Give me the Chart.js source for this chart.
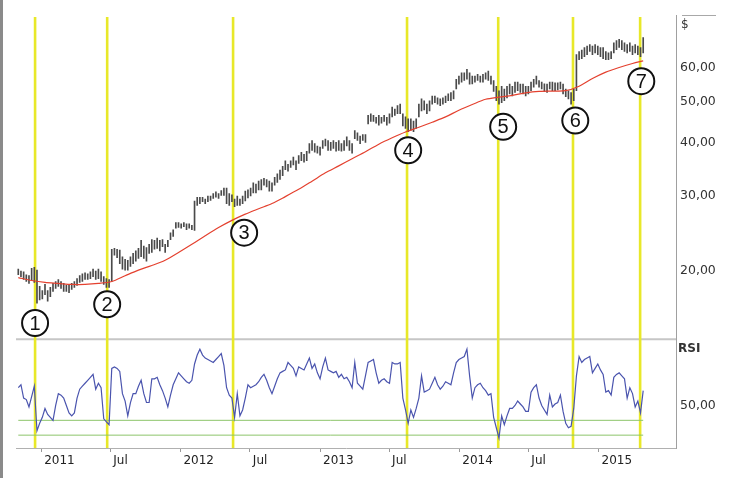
<!DOCTYPE html>
<html>
<head>
<meta charset="utf-8">
<script src="https://cdn.jsdelivr.net/npm/chart.js@4.4.1/dist/chart.umd.min.js"></script>
<style>
  html, body { margin: 0; padding: 0; background: #fff; }
  #c { display: block; }
</style>
</head>
<body>
<canvas id="c" width="730" height="478"></canvas>
<script>
// weekly bars, first week starts here
const firstWeek = '2010-11-02';

const weeklyHigh = [
  20.2, 20.0, 19.9, 19.6, 19.5, 20.3, 20.4, 20.1, 18.4, 18.0,
  18.6, 18.0, 18.3, 18.7, 18.9, 19.1, 18.9, 18.7, 18.5, 18.5,
  18.7, 18.9, 19.2, 19.5, 19.7, 19.8, 19.7, 19.9, 20.2, 20.0,
  20.2, 19.9, 19.4, 19.2, 19.1, 22.5, 22.6, 22.5, 22.4, 21.6,
  21.3, 21.2, 21.6, 22.0, 22.3, 22.6, 23.6, 22.9, 22.7, 23.1,
  23.7, 23.6, 23.9, 23.6, 23.7, 23.1, 23.6, 24.6, 25.0, 26.0,
  26.0, 25.8, 26.0, 25.8, 25.8, 25.6, 29.2, 29.8, 29.8, 29.8,
  29.5, 30.0, 30.0, 30.4, 30.7, 30.4, 30.9, 31.3, 31.3, 30.4,
  30.2, 29.5, 30.0, 29.5, 30.0, 30.8, 31.0, 31.3, 32.2, 32.0,
  32.5, 32.8, 33.0, 32.8, 32.5, 32.2, 33.2, 33.8, 34.5, 35.2,
  36.3, 35.6, 36.3, 37.0, 36.3, 37.3, 38.0, 37.6, 38.2, 39.8,
  40.5, 39.8, 39.3, 39.1, 40.5, 40.8, 40.5, 40.1, 40.5, 40.1,
  40.5, 39.8, 40.5, 41.3, 40.5, 39.8, 42.7, 42.2, 41.5, 41.8,
  41.8, 46.4, 46.8, 46.4, 45.9, 46.4, 45.9, 46.4, 45.9, 46.8,
  48.5, 48.0, 48.9, 49.3, 46.8, 46.0, 45.5, 45.5, 45.0, 45.5,
  49.3, 50.7, 50.2, 49.3, 50.2, 51.5, 51.5, 51.0, 50.7, 51.0,
  51.5, 52.1, 52.5, 53.0, 56.4, 57.4, 58.4, 58.4, 59.5, 58.4,
  57.4, 57.4, 57.9, 57.4, 57.9, 58.4, 58.9, 57.4, 56.0, 54.3,
  53.0, 54.3, 53.5, 54.3, 54.9, 54.3, 55.5, 55.5, 54.9, 54.9,
  54.3, 54.3, 55.5, 56.4, 57.4, 56.0, 55.5, 55.0, 54.9, 55.5,
  55.5, 55.3, 55.3, 55.5, 54.9, 53.5, 53.0, 52.5, 53.5, 64.4,
  65.5, 66.0, 66.9, 67.5, 68.0, 67.5, 68.0, 67.5, 66.9, 66.9,
  65.5, 65.0, 65.5, 68.7, 69.5, 70.0, 69.5, 68.7, 68.0, 68.7,
  67.5, 68.0, 67.5, 66.9, 70.6
];

const weeklyLow = [
  19.6, 19.4, 19.1, 18.9, 18.7, 19.0, 18.8, 16.8, 17.1, 17.2,
  17.6, 17.0, 17.4, 17.9, 18.2, 18.4, 18.2, 17.9, 17.9, 17.8,
  18.1, 18.3, 18.5, 18.8, 18.9, 19.1, 19.1, 19.2, 19.4, 19.1,
  19.2, 18.9, 18.6, 18.3, 18.3, 18.9, 21.8, 21.5, 20.8, 20.2,
  20.1, 20.1, 20.5, 20.8, 21.1, 21.4, 21.6, 21.4, 21.1, 22.0,
  22.1, 22.5, 22.6, 22.3, 22.8, 22.1, 22.8, 23.7, 24.1, 25.2,
  25.3, 25.2, 25.4, 25.0, 25.2, 25.0, 24.9, 28.5, 28.8, 29.1,
  28.8, 29.1, 29.3, 29.6, 29.8, 29.6, 30.1, 30.1, 28.8, 28.5,
  29.1, 28.3, 28.5, 28.5, 28.8, 29.2, 29.7, 30.0, 30.5, 30.5,
  31.0, 31.0, 31.8, 31.5, 30.8, 30.8, 31.8, 32.3, 32.8, 33.5,
  34.6, 34.3, 35.0, 35.5, 34.6, 35.8, 36.3, 36.0, 36.3, 37.8,
  38.4, 38.0, 37.8, 37.4, 38.8, 39.3, 38.4, 38.4, 38.8, 38.2,
  38.4, 38.2, 38.4, 39.3, 38.4, 37.8, 40.9, 40.5, 39.8, 40.5,
  40.1, 44.3, 44.9, 44.9, 44.5, 44.0, 44.5, 44.9, 44.0, 44.5,
  46.0, 46.4, 46.8, 46.8, 43.8, 43.2, 42.5, 42.8, 42.5, 43.2,
  46.0, 47.5, 47.8, 46.8, 47.5, 49.3, 49.7, 49.3, 48.9, 49.3,
  49.7, 50.2, 50.2, 50.7, 53.5, 54.9, 55.5, 56.0, 56.4, 54.9,
  55.0, 55.5, 56.0, 55.5, 55.5, 56.4, 56.0, 54.9, 52.8, 50.2,
  49.3, 49.7, 50.2, 51.0, 52.1, 51.5, 52.5, 53.0, 52.5, 52.1,
  51.5, 52.1, 53.0, 54.0, 54.9, 54.0, 53.5, 52.8, 52.5, 53.5,
  53.0, 53.0, 53.2, 53.5, 52.1, 51.3, 50.7, 49.3, 50.2, 53.0,
  62.7, 63.0, 63.7, 64.4, 65.5, 64.4, 65.0, 64.4, 63.7, 63.0,
  62.7, 62.7, 63.0, 65.0, 66.2, 67.0, 66.2, 65.5, 65.0, 65.5,
  64.4, 65.0, 64.4, 63.7, 65.0
];

const rsi = [
  62, 64, 55, 54, 49, 56, 63, 33, 38, 42,
  48, 44, 42, 40, 50, 58, 57, 55, 50, 45,
  43, 45, 55, 61, 63, 65, 67, 69, 71, 61,
  65, 62, 41, 39, 37, 75, 76, 75, 73, 58,
  53, 43, 52, 58, 58, 63, 67, 58, 52, 52,
  68, 68, 69, 64, 60, 55, 49, 57, 64, 68,
  72, 70, 68, 66, 65, 67, 78, 84, 88, 84,
  82, 81, 80, 79, 81, 83, 85, 77, 62, 57,
  55, 42, 58, 43, 47, 55, 64, 62, 63, 64,
  66, 69, 71, 67, 62, 58, 63, 68, 72, 73,
  74, 79, 77, 75, 70, 76, 75, 74, 78, 82,
  75, 78, 72, 68, 76, 82, 74, 73, 72, 73,
  69, 71, 68, 69, 66, 62, 79, 65, 63, 61,
  70, 79, 80, 81, 72, 65, 67, 68, 66, 65,
  79, 78, 78, 79, 55, 47, 38, 47, 42, 48,
  55, 70, 59, 60, 61, 65, 69, 64, 61, 63,
  66, 65, 64, 72, 79, 81, 82, 83, 88, 70,
  55, 62, 64, 65, 62, 60, 57, 58, 42, 35,
  28, 43, 37, 43, 48, 48, 50, 53, 51, 49,
  46, 46, 59, 62, 64, 55, 50, 47, 44, 57,
  49, 51, 52, 57, 46, 38, 35, 36, 48, 70,
  83, 79, 81, 82, 83, 72, 75, 78, 74, 71,
  59, 60, 57, 69, 71, 72, 70, 68, 55, 62,
  58, 49, 53, 45, 60
];

// moving average, read every 5 weeks
const maWeeks = [0, 5, 10, 15, 20, 25, 30, 35, 40, 45, 50, 55, 60, 65, 70, 75, 80, 85, 90, 95,
  100, 105, 110, 115, 120, 125, 130, 135, 140, 145, 150, 155, 160, 165, 170, 175, 180, 185,
  190, 195, 200, 205, 210, 215, 220, 225, 230, 234];
const maValues = [19.3, 19.0, 18.8, 18.7, 18.6, 18.6, 18.7, 18.9, 19.5, 20.1, 20.6, 21.2,
  22.1, 23.1, 24.2, 25.3, 26.3, 27.2, 28.0, 28.8, 29.9, 31.1, 32.5, 34.0, 35.3, 36.7, 38.1,
  39.7, 41.1, 42.4, 43.5, 44.7, 46.0, 47.7, 49.2, 50.6, 51.2, 51.7, 52.4, 52.8, 52.9, 53.0,
  54.3, 56.6, 58.6, 60.1, 61.4, 62.3];

const priceTicks = [20, 30, 40, 50, 60];
const rsiTicks = [50];
const rsiLevels = [40, 30];

const xTickDates = ['2011-01-01', '2011-07-01', '2012-01-01', '2012-07-01', '2013-01-01',
  '2013-07-01', '2014-01-01', '2014-07-01', '2015-01-01'];
const xTickLabels = ['2011', 'Jul', '2012', 'Jul', '2013', 'Jul', '2014', 'Jul', '2015'];

// yellow signal lines and numbered circles
const signalDates = ['2010-12-16', '2011-06-23', '2012-05-18', '2013-08-17', '2014-04-13',
  '2014-10-26', '2015-04-20'];
const markerDates = ['2010-12-16', '2011-06-23', '2012-06-16', '2013-08-20', '2014-04-26',
  '2014-11-01', '2015-04-23'];
const markerPrices = [15.1, 16.7, 24.6, 38.4, 43.6, 45.1, 55.8];
const markerLabels = ['1', '2', '3', '4', '5', '6', '7'];

const dayNum = s => (Date.parse(s) - Date.parse('2011-01-01')) / 864e5;
const weekX = i => dayNum(firstWeek) + 7 * i;
const fmt = v => v.toFixed(2).replace('.', ',');
const tickFont = { family: 'DejaVu Sans', size: 12.5 };

const decor = {
  id: 'decor',
  beforeDatasetsDraw(chart) {
    const { ctx, chartArea, scales } = chart;
    const x = scales.x, y = scales.y, r = scales.rsi;
    ctx.save();
    ctx.strokeStyle = '#c6c6c6';
    ctx.lineWidth = 2;
    ctx.beginPath();
    ctx.moveTo(chartArea.left, y.bottom);
    ctx.lineTo(chartArea.right, y.bottom);
    ctx.stroke();

    ctx.strokeStyle = '#e8e829';
    ctx.lineWidth = 2.6;
    signalDates.forEach(d => {
      const px = x.getPixelForValue(dayNum(d));
      ctx.beginPath();
      ctx.moveTo(px, y.top + 2);
      ctx.lineTo(px, r.bottom);
      ctx.stroke();
    });
    ctx.restore();
  },
  afterDraw(chart) {
    const { ctx, chartArea, scales } = chart;
    const y = scales.y, r = scales.rsi;
    ctx.save();
    // numbers in the circles
    const meta = chart.getDatasetMeta(chart.data.datasets.length - 1);
    ctx.fillStyle = '#111';
    ctx.font = '20px "Liberation Sans Narrow", "Liberation Sans", sans-serif';
    ctx.textAlign = 'center';
    ctx.textBaseline = 'middle';
    meta.data.forEach((pt, i) => ctx.fillText(markerLabels[i], pt.x, pt.y + 1));

    // panel captions
    ctx.fillStyle = '#333';
    ctx.textAlign = 'left';
    ctx.font = '12px "DejaVu Sans"';
    ctx.fillText('$', chartArea.right + 5, y.top + 10);
    ctx.font = 'bold 12px "DejaVu Sans"';
    ctx.fillText('RSI', chartArea.right + 2, r.top + 10);

    ctx.strokeStyle = '#a8a8a8';
    ctx.lineWidth = 1;
    ctx.beginPath();
    ctx.moveTo(chartArea.right + 6, y.top + 0.5);
    ctx.lineTo(chartArea.right + 40, y.top + 0.5);
    ctx.stroke();

    ctx.strokeStyle = '#8a8a8a';
    ctx.lineWidth = 3;
    ctx.beginPath();
    ctx.moveTo(1.5, 0);
    ctx.lineTo(1.5, chart.height);
    ctx.stroke();
    ctx.restore();
  }
};

new Chart(document.getElementById('c'), {
  type: 'line',
  data: {
    datasets: [
      {
        type: 'bar',
        label: 'Price',
        data: weeklyHigh.map((h, i) => ({ x: weekX(i), y: [weeklyLow[i], h] })),
        backgroundColor: '#4a4a4a',
        barThickness: 1,
        yAxisID: 'y',
        order: 3
      },
      {
        label: 'MA',
        data: maWeeks.map((w, i) => ({ x: weekX(w), y: maValues[i] })),
        borderColor: '#e4412f',
        borderWidth: 1.2,
        pointRadius: 0,
        tension: 0.3,
        yAxisID: 'y',
        order: 2
      },
      {
        label: 'RSI',
        data: rsi.map((v, i) => ({ x: weekX(i), y: v })),
        borderColor: '#4a54ae',
        borderWidth: 1.2,
        pointRadius: 0,
        yAxisID: 'rsi',
        order: 2
      },
      ...rsiLevels.map(l => ({
        label: 'level ' + l,
        data: [{ x: weekX(0), y: l }, { x: weekX(rsi.length - 1), y: l }],
        borderColor: '#8cc46a',
        borderWidth: 1,
        pointRadius: 0,
        yAxisID: 'rsi',
        order: 4
      })),
      {
        label: 'markers',
        data: markerDates.map((d, i) => ({ x: dayNum(d), y: markerPrices[i] })),
        showLine: false,
        pointRadius: 13,
        pointBackgroundColor: '#fff',
        pointBorderColor: '#111',
        pointBorderWidth: 2,
        yAxisID: 'y',
        order: 0
      }
    ]
  },
  options: {
    responsive: false,
    animation: false,
    devicePixelRatio: 1,
    layout: { padding: { left: 16, top: 10, right: 0, bottom: 0 } },
    plugins: { legend: { display: false }, tooltip: { enabled: false } },
    scales: {
      x: {
        type: 'linear',
        bounds: 'data',
        min: dayNum('2010-10-27'),
        max: dayNum('2015-07-23'),
        offset: false,
        grid: { display: true, drawOnChartArea: false, drawTicks: true, tickLength: 4, color: '#999', offset: false },
        border: { color: '#b0b0b0', width: 1 },
        ticks: {
          autoSkip: false,
          maxRotation: 0,
          align: 'start',
          labelOffset: 3,
          padding: 2,
          color: '#222',
          font: { family: 'DejaVu Sans', size: 12 },
          callback: (v, i) => xTickLabels[i]
        },
        afterBuildTicks: s => { s.ticks = xTickDates.map(d => ({ value: dayNum(d) })); },
        afterFit: s => { s.height = 30; s.paddingLeft = 0; s.paddingRight = 0; }
      },
      y: {
        type: 'logarithmic',
        position: 'right',
        stack: 'panes',
        stackWeight: 328,
        bounds: 'data',
        min: 13.83,
        max: 79.8,
        grid: { display: false, drawTicks: false },
        border: { color: '#a0a0a0' },
        ticks: { padding: 4, color: '#333', font: tickFont, callback: v => fmt(v) },
        afterBuildTicks: s => { s.ticks = priceTicks.map(v => ({ value: v })); },
        afterFit: s => { s.width = 54; s.paddingTop = 0; s.paddingBottom = 0; }
      },
      rsi: {
        type: 'linear',
        position: 'right',
        stack: 'panes',
        stackWeight: 110,
        bounds: 'data',
        min: 21.33,
        max: 94.67,
        grid: { display: false, drawTicks: false },
        border: { color: '#a0a0a0' },
        ticks: { padding: 4, color: '#333', font: tickFont, callback: v => fmt(v) },
        afterBuildTicks: s => { s.ticks = rsiTicks.map(v => ({ value: v })); },
        afterFit: s => { s.width = 54; s.paddingTop = 0; s.paddingBottom = 0; }
      }
    }
  },
  plugins: [decor]
});
</script>
</body>
</html>
